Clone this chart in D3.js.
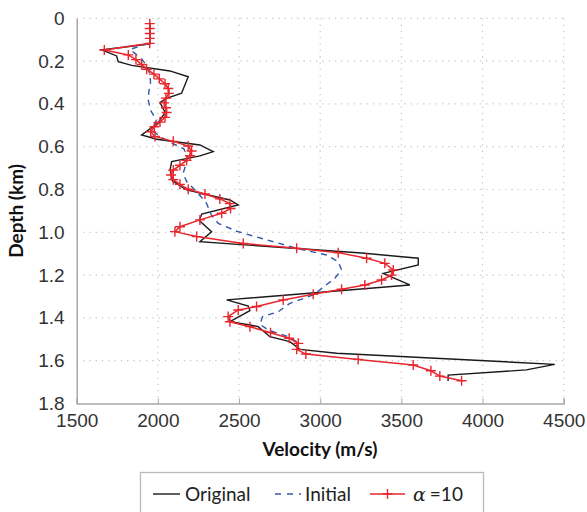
<!DOCTYPE html>
<html>
<head>
<meta charset="utf-8">
<script src="https://cdn.jsdelivr.net/npm/d3@7"></script>
<style>
  body { margin: 0; background: #fff; }
  svg { display: block; font-family: 'Lato', 'Open Sans', sans-serif; }
</style>
</head>
<body>
<div id="chart"></div>
<script>
const WIDTH = 587;
const HEIGHT = 512;

// tick values
const xTicks = [1500, 2000, 2500, 3000, 3500, 4000, 4500];
const yTicks = [0, 0.2, 0.4, 0.6, 0.8, 1.0, 1.2, 1.4, 1.6, 1.8];

// Original model
const origDepth = [0.02, 0.12, 0.148, 0.176, 0.203, 0.22, 0.246, 0.273, 0.35, 0.374, 0.394, 0.44, 0.49, 0.545,
  0.565, 0.592, 0.623, 0.643, 0.67, 0.709, 0.76, 0.787, 0.802, 0.849, 0.872, 0.915, 0.945, 0.997, 1.044,
  1.097, 1.121, 1.153, 1.192, 1.246, 1.316, 1.345, 1.366, 1.418, 1.433, 1.441, 1.488, 1.511, 1.547,
  1.565, 1.617, 1.643, 1.667, 1.695];
const origVel = [1950, 1950, 1654, 1746, 1756, 1839, 2074, 2187, 2146, 2054, 2013, 2045, 2000, 1900,
  1993, 2259, 2341, 2259, 2085, 2075, 2090, 2146, 2177, 2444, 2495, 2270, 2255, 2331, 2259,
  3255, 3604, 3604, 3388, 3552, 2424, 2557, 2567, 2444, 2567, 2618, 2690, 2813, 2875,
  3101, 4445, 4270, 3788, 3788];

// Initial model
const initDepth = [0.02, 0.115, 0.145, 0.165, 0.19, 0.22, 0.26, 0.3, 0.34, 0.38, 0.43, 0.475, 0.53, 0.57,
  0.61, 0.65, 0.69, 0.724, 0.763, 0.81, 0.865, 0.92, 0.958, 0.995, 1.035, 1.075, 1.106, 1.137, 1.176,
  1.215, 1.293, 1.332, 1.371, 1.394, 1.43, 1.457, 1.485, 1.511];
const initVel = [1950, 1950, 1830, 1860, 1900, 1930, 1950, 1955, 1945, 1940, 1955, 1990, 1975, 2050,
  2160, 2185, 2170, 2156, 2177, 2239, 2300, 2330, 2372, 2485, 2670, 2855, 3040, 3111, 3132,
  3090, 2957, 2813, 2742, 2645, 2629, 2680, 2793, 2855];

// Inverted model, alpha = 10
const alphaDepth = [0.025, 0.048, 0.071, 0.094, 0.117, 0.148, 0.171, 0.193, 0.216, 0.238, 0.261, 0.283,
  0.306, 0.328, 0.351, 0.373, 0.395, 0.418, 0.44, 0.463, 0.485, 0.507, 0.53, 0.552, 0.575, 0.597,
  0.62, 0.642, 0.664, 0.687, 0.709, 0.732, 0.754, 0.776, 0.799, 0.821, 0.844, 0.866, 0.889, 0.911,
  0.942, 0.974, 0.997, 1.02, 1.052, 1.075, 1.095, 1.121, 1.145, 1.176, 1.2, 1.223, 1.246, 1.266,
  1.29, 1.316, 1.347, 1.363, 1.394, 1.418, 1.441, 1.469, 1.495, 1.519, 1.547, 1.569, 1.594, 1.62,
  1.647, 1.672, 1.694];
const alphaVel = [1950, 1950, 1950, 1950, 1950, 1670, 1818, 1865, 1900, 1931, 1976, 2009,
  2044, 2064, 2068, 2050, 2039, 2050, 2054, 2044, 2013, 1978, 1956, 1982, 2095, 2187,
  2208, 2198, 2177, 2136, 2095, 2081, 2095, 2136, 2187, 2290, 2382, 2444, 2448, 2393,
  2259, 2136, 2105, 2239, 2526, 2855, 3111, 3286, 3398, 3450, 3440, 3378, 3275, 3132,
  2957, 2772, 2608, 2495, 2433, 2444, 2567, 2694, 2809, 2865, 2855, 2912, 3234, 3573,
  3682, 3737, 3871];

const seriesNames = ['Original', 'Initial', 'α'];
const alphaValue = 10;

const COLORS = { orig: '#1a1a1a', init: '#2e59a8', alpha: '#e8262d', axis: '#a8a8a8', grid: '#c8c8c8' };

const svg = d3.select('#chart')
  .append('svg')
  .attr('width', WIDTH)
  .attr('height', HEIGHT);

const xScale = d3.scaleLinear().domain([1500, 4500]).range([76.7, 563.7]);
const yScale = d3.scaleLinear().domain([0, 1.8]).range([18.3, 403.5]);

// dotted grid
svg.append('g')
  .selectAll('line')
  .data(xTicks.slice(1))
  .join('line')
  .attr('x1', d => xScale(d)).attr('x2', d => xScale(d))
  .attr('y1', yScale(0)).attr('y2', yScale(1.8))
  .attr('stroke', COLORS.grid).attr('stroke-width', 1.2)
  .attr('stroke-dasharray', '1.3,5');

svg.append('g')
  .selectAll('line')
  .data(yTicks.slice(0, -1))
  .join('line')
  .attr('x1', xScale(1500)).attr('x2', xScale(4500))
  .attr('y1', d => yScale(d)).attr('y2', d => yScale(d))
  .attr('stroke', COLORS.grid).attr('stroke-width', 1.2)
  .attr('stroke-dasharray', '1.3,5');

// axes
const xAxis = svg.append('g')
  .attr('transform', `translate(0,${yScale(1.8)})`)
  .call(d3.axisBottom(xScale).tickValues(xTicks).tickSize(-5).tickPadding(7).tickFormat(d3.format('d')));
xAxis.select('.domain').attr('stroke', COLORS.axis).attr('stroke-width', 1.5);
xAxis.selectAll('.tick line').attr('stroke', COLORS.axis).attr('stroke-width', 1);
xAxis.selectAll('.tick text')
  .attr('font-size', 19).attr('fill', '#333').attr('font-family', null)
  .attr('y', 23).attr('dy', 0);

const yAxis = svg.append('g')
  .attr('transform', `translate(${xScale(1500)},0)`)
  .call(d3.axisLeft(yScale).tickValues(yTicks).tickSize(0).tickPadding(12)
    .tickFormat(d => d === 0 ? '0' : d3.format('.1f')(d)));
yAxis.select('.domain').attr('stroke', COLORS.axis).attr('stroke-width', 1.5);
yAxis.selectAll('.tick text')
  .attr('font-size', 19).attr('fill', '#333').attr('font-family', null);

// axis titles
svg.append('text')
  .attr('x', 320).attr('y', 456)
  .attr('text-anchor', 'middle')
  .attr('font-size', 19).attr('font-weight', 'bold').attr('fill', '#111')
  .text('Velocity (m/s)');

svg.append('text')
  .attr('transform', `translate(23,${yScale(0.9)}) rotate(-90)`)
  .attr('text-anchor', 'middle')
  .attr('font-size', 19).attr('font-weight', 'bold').attr('fill', '#111')
  .text('Depth (km)');

// curves
const line = d3.line().x(d => xScale(d[1])).y(d => yScale(d[0]));
const origData = d3.zip(origDepth, origVel);
const initData = d3.zip(initDepth, initVel);
const alphaData = d3.zip(alphaDepth, alphaVel);

svg.append('path').datum(origData)
  .attr('d', line).attr('fill', 'none')
  .attr('stroke', COLORS.orig).attr('stroke-width', 1.4);

svg.append('path').datum(initData)
  .attr('d', line).attr('fill', 'none')
  .attr('stroke', COLORS.init).attr('stroke-width', 1.4)
  .attr('stroke-dasharray', '6,5');

svg.append('path').datum(alphaData)
  .attr('d', line).attr('fill', 'none')
  .attr('stroke', COLORS.alpha).attr('stroke-width', 1.5);

const PLUS = 'M-5,0H5M0,-5V5';
svg.append('g')
  .selectAll('path')
  .data(alphaData)
  .join('path')
  .attr('transform', d => `translate(${xScale(d[1])},${yScale(d[0])})`)
  .attr('d', PLUS)
  .attr('stroke', COLORS.alpha).attr('stroke-width', 1.4);

// legend
const legend = svg.append('g');
legend.append('rect')
  .attr('x', 140.5).attr('y', 472.5).attr('width', 343).attr('height', 60)
  .attr('fill', '#fff').attr('stroke', '#b8b8b8').attr('stroke-width', 1.3);

const ly = 494;
legend.append('line').attr('x1', 153).attr('x2', 180).attr('y1', ly).attr('y2', ly)
  .attr('stroke', COLORS.orig).attr('stroke-width', 1.4);
legend.append('text').attr('x', 185).attr('y', ly + 7)
  .attr('font-size', 19).attr('fill', '#222').text(seriesNames[0]);

legend.append('line').attr('x1', 275).attr('x2', 301).attr('y1', ly).attr('y2', ly)
  .attr('stroke', COLORS.init).attr('stroke-width', 1.4).attr('stroke-dasharray', '6,6');
legend.append('text').attr('x', 305).attr('y', ly + 7)
  .attr('font-size', 19).attr('fill', '#222').text(seriesNames[1]);

legend.append('line').attr('x1', 370).attr('x2', 405).attr('y1', ly).attr('y2', ly)
  .attr('stroke', COLORS.alpha).attr('stroke-width', 1.5);
legend.append('path').attr('transform', `translate(387.5,${ly})`).attr('d', PLUS)
  .attr('stroke', COLORS.alpha).attr('stroke-width', 1.4);
const lt = legend.append('text').attr('x', 413).attr('y', ly + 7)
  .attr('font-size', 19).attr('fill', '#222');
lt.append('tspan').attr('font-style', 'italic').attr('font-family', 'DejaVu Serif, serif').text(seriesNames[2]);
lt.append('tspan').attr('dx', 4).text('=' + alphaValue);
</script>
</body>
</html>
